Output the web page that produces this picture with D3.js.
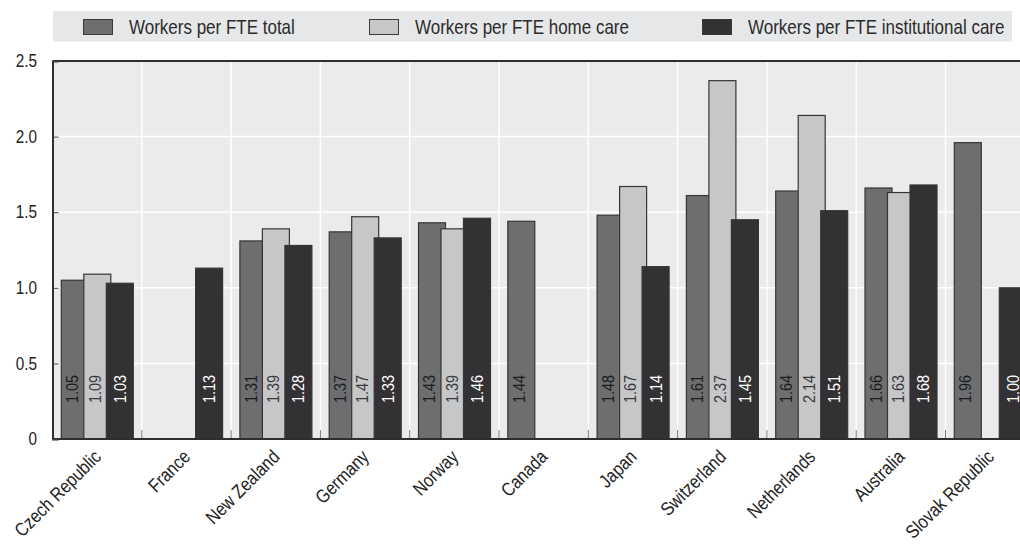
<!DOCTYPE html>
<html>
<head>
<meta charset="utf-8">
<script src="https://cdn.jsdelivr.net/npm/d3@7"></script>
<style>
  body { margin: 0; background: #fff; overflow: hidden; }
  svg { display: block; font-family: "Liberation Sans", Arial, sans-serif; }
</style>
</head>
<body>
<div id="chart"></div>
<script>
var countries = ["Czech Republic", "France", "New Zealand", "Germany", "Norway", "Canada",
                 "Japan", "Switzerland", "Netherlands", "Australia", "Slovak Republic"];
var seriesNames = ["Workers per FTE total", "Workers per FTE home care", "Workers per FTE institutional care"];
var total =         [1.05, null, 1.31, 1.37, 1.43, 1.44, 1.48, 1.61, 1.64, 1.66, 1.96];
var homeCare =      [1.09, null, 1.39, 1.47, 1.39, null, 1.67, 2.37, 2.14, 1.63, null];
var institutional = [1.03, 1.13, 1.28, 1.33, 1.46, null, 1.14, 1.45, 1.51, 1.68, 1.00];
var yTicks = [0, 0.5, 1.0, 1.5, 2.0, 2.5];

var series = [total, homeCare, institutional];
var fills = ["#6d6e70", "#c6c7c9", "#333133"];
var labelColors = ["#1c1c1c", "#3a3a3a", "#ffffff"];

// the original uses a condensed face: squeeze Liberation Sans horizontally
var narrow = " scale(0.85,1)";

var width = 1020, height = 544,
    plotLeft = 52.5, plotTop = 61, plotBottom = 439,
    step = 89.3;

var svg = d3.select("#chart").append("svg")
  .attr("width", width)
  .attr("height", height);

var x = d3.scaleBand()
  .domain(countries)
  .range([plotLeft, plotLeft + step * countries.length])
  .padding(0);

// bars overlap: each is wider than the offset to the next one
var xSub = d3.scaleBand()
  .domain(d3.range(series.length))
  .range([8.3, 8.3 + 22.5 * series.length])
  .padding(0);
var barWidth = 28;

var y = d3.scaleLinear()
  .domain([0, 2.5])
  .range([plotBottom, plotTop]);

// legend
var legend = svg.append("g");
legend.append("rect")
  .attr("x", 53).attr("y", 11)
  .attr("width", 959).attr("height", 30.5)
  .attr("fill", "#e6e7e8");
var legendX = [83, 369, 702];
var item = legend.selectAll(".item")
  .data(seriesNames)
  .enter().append("g")
  .attr("class", "item")
  .attr("transform", function(d, i) { return "translate(" + legendX[i] + ",0)"; });
item.append("rect")
  .attr("x", 0.5).attr("y", 19.5)
  .attr("width", 29).attr("height", 15)
  .attr("fill", function(d, i) { return fills[i]; })
  .attr("stroke", "#3a3a3a");
item.append("text")
  .attr("transform", "translate(46,34)" + narrow)
  .attr("font-size", 20)
  .attr("fill", "#2b2b2b")
  .text(function(d) { return d; });

// plot background
svg.append("rect")
  .attr("x", plotLeft).attr("y", plotTop)
  .attr("width", width - plotLeft).attr("height", plotBottom - plotTop)
  .attr("fill", "#ebebeb");

svg.append("g").selectAll("line")
  .data(yTicks.filter(function(d) { return d > 0 && d < 2.5; }))
  .enter().append("line")
  .attr("x1", plotLeft).attr("x2", width)
  .attr("y1", function(d) { return y(d); })
  .attr("y2", function(d) { return y(d); })
  .attr("stroke", "#fff").attr("stroke-width", 1.5);

var bounds = countries.slice(1).map(function(c) { return x(c); });
svg.append("g").selectAll("line")
  .data(bounds)
  .enter().append("line")
  .attr("x1", function(d) { return d; }).attr("x2", function(d) { return d; })
  .attr("y1", plotTop).attr("y2", plotBottom)
  .attr("stroke", "#fff").attr("stroke-width", 1.5);

// small ticks on the bottom at category borders
svg.append("g").selectAll("line")
  .data(bounds)
  .enter().append("line")
  .attr("x1", function(d) { return d; }).attr("x2", function(d) { return d; })
  .attr("y1", plotBottom - 9).attr("y2", plotBottom)
  .attr("stroke", "#7a7a7a").attr("stroke-width", 1);

// bars
var group = svg.append("g").selectAll(".country")
  .data(countries)
  .enter().append("g")
  .attr("class", "country")
  .attr("transform", function(d) { return "translate(" + x(d) + ",0)"; });

var cells = group.selectAll(".bar")
  .data(function(d, ci) {
    return series.map(function(s, si) { return {si: si, value: s[ci]}; })
      .filter(function(e) { return e.value != null; });
  })
  .enter().append("g")
  .attr("class", "bar");

cells.append("rect")
  .attr("x", function(d) { return xSub(d.si) + 0.5; })
  .attr("y", function(d) { return y(d.value); })
  .attr("width", barWidth - 1)
  .attr("height", function(d) { return y(0) - y(d.value); })
  .attr("fill", function(d) { return fills[d.si]; })
  .attr("stroke", "#363636")
  .attr("stroke-width", 1.2);

cells.append("text")
  .attr("transform", function(d) {
    var cx = xSub(d.si) + (d.si === series.length - 1 ? barWidth : xSub.bandwidth()) / 2;
    return "translate(" + cx + "," + (plotBottom - 36) + ") rotate(-90)" + narrow;
  })
  .attr("dy", "0.35em")
  .attr("font-size", 17)
  .attr("fill", function(d) { return labelColors[d.si]; })
  .text(function(d) { return d.value.toFixed(2); });

// frame
svg.append("line")
  .attr("x1", plotLeft).attr("x2", width).attr("y1", plotTop).attr("y2", plotTop)
  .attr("stroke", "#2e2e2e").attr("stroke-width", 2);
svg.append("line")
  .attr("x1", plotLeft).attr("x2", width).attr("y1", plotBottom).attr("y2", plotBottom)
  .attr("stroke", "#2e2e2e").attr("stroke-width", 2);

// y axis
var yAxis = d3.axisRight(y)
  .tickValues(yTicks)
  .tickSize(6)
  .tickFormat(function(d) { return d === 0 ? "0" : d.toFixed(1); });
var gy = svg.append("g")
  .attr("transform", "translate(" + plotLeft + ",0)")
  .call(yAxis);
gy.select(".domain").attr("stroke", "#2e2e2e").attr("stroke-width", 2);
gy.selectAll(".tick line").attr("stroke", "#444");
gy.selectAll(".tick text")
  .attr("x", -15.5 / 0.85)
  .attr("transform", narrow)
  .attr("text-anchor", "end")
  .attr("font-size", 18)
  .attr("fill", "#222");

// x labels
svg.append("g").selectAll("text")
  .data(countries)
  .enter().append("text")
  .attr("transform", function(d) {
    return "translate(" + (x(d) + x.bandwidth() / 2 + 5) + "," + 458 + ") rotate(-45)" + narrow;
  })
  .attr("text-anchor", "end")
  .attr("font-size", 19)
  .attr("fill", "#222")
  .text(function(d) { return d; });
</script>
</body>
</html>
